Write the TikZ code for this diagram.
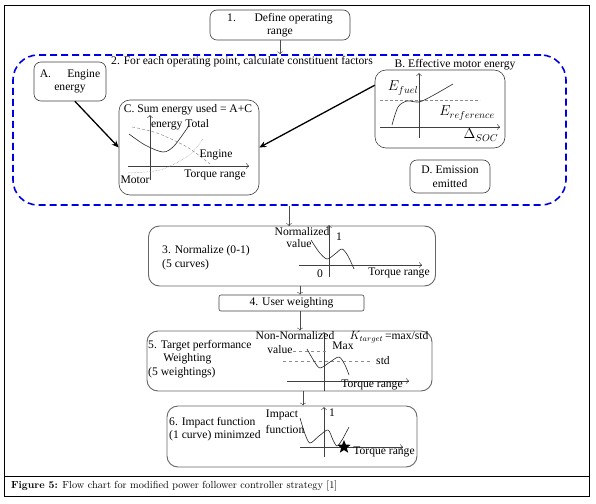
\documentclass[tikz,border=0pt]{standalone}
\usepackage{fontspec}
\newfontfamily\tnr{Liberation Serif}
\usetikzlibrary{calc, positioning, arrows.meta, shapes.geometric}

\begin{document}
\begin{tikzpicture}[
  x=1pt, y=-1pt,
  >=To,
  every node/.style={font=\tnr\fontsize{11.6}{13.5}\selectfont, inner sep=1pt},
  % boxes of the flow chart
  stepbox/.style={rectangle, draw=black!75, line width=0.6pt, rounded corners=7pt, align=center},
  bigbox/.style={rectangle, draw=black!60, line width=0.9pt, rounded corners=11pt},
  stage/.style={rectangle, draw=blue!90!black, line width=1.6pt, dash pattern=on 7pt off 4pt, rounded corners=25pt},
  flow/.style={->, draw=black!70, line width=0.5pt},
  feed/.style={-{Stealth[length=7pt,width=6pt]}, line width=1.3pt},
  axis/.style={->, draw=black!75, line width=0.5pt},
  guide/.style={draw=black!45, dashed, line width=0.5pt},
  curve/.style={draw=black!85, line width=0.6pt},
  bigmath/.style={font=\tnr\fontsize{14.5}{16}\selectfont}
]
\useasboundingbox (0,0) rectangle (596,503);

% Frame and caption
\draw[line width=0.6pt] (4.5,5) rectangle (589,496);
\draw[line width=0.6pt] (4.5,476) -- (589,476);
\node[anchor=west, font=\fontsize{10.3}{12}\selectfont] (caption) at (10,486)
  {\textbf{Figure 5:} Flow chart for modified power follower controller strategy [1]};

% Step 1
\node[stepbox, minimum width=140, minimum height=30] (define) at (280,25)
  {1.\hspace{1.6em}Define operating\\range};

% Stage 2 region
\node[stage, minimum width=553, minimum height=150] (stage2) at (289.5,130) {};
\node (stagelabel) at (242,62) {2. For each operating point, calculate constituent factors};
\draw[flow] (define.south) -- (define.south |- stage2.north);

% A. Engine energy
\node[stepbox, minimum width=72, minimum height=39] (engine) at (70,81.5)
  {A.\hspace{1.4em}Engine\\energy};

% C. Sum energy
\node[stepbox, rounded corners=11pt, minimum width=140, minimum height=95] (sum) at (189,147.5) {};
\node (sumlabel) at (188,110) {C. Sum energy used = A+C};
\draw[axis] (150,180) -- (150,115);
\draw[axis] (128,166) -- (249,166);
\draw[curve] plot[smooth] coordinates {(129,134) (145,145) (163,152) (174,146) (188,127)};
\draw[guide, densely dashed] plot[smooth] coordinates {(132,127) (157,133) (187,147) (210,164)};
\draw[guide, densely dotted] plot[smooth] coordinates {(128,173) (160,170) (188,156) (203,139)};
\node (total) at (180,125) {energy Total};
\node (enginecurve) at (216,155) {Engine};
\node (torqueC) at (215,175) {Torque range};
\node (motor) at (135,180) {Motor};

% B. Effective motor energy
\node[stepbox, rounded corners=11pt, minimum width=130, minimum height=78] (motorbox) at (440,109) {};
\node (motorlabel) at (455,65) {B. Effective motor energy};
\draw[axis] (419,138) -- (419,73);
\draw[axis] (380,127) -- (500,127);
\draw[guide, densely dashed] (380,100) -- (480,100);
\draw[curve] plot[smooth] coordinates {(392,125) (398,107) (407,101) (419,102) (432,96) (453,84)};
\node[bigmath] (efuel) at (403,88) {$E_{fuel}$};
\node[bigmath] (eref) at (467,113) {$E_{reference}$};
\node[bigmath] (dsoc) at (481,135) {$\Delta_{SOC}$};

% D. Emission
\node[stepbox, minimum width=80, minimum height=33] (emission) at (450,176.5)
  {D. Emission\\emitted};

% Feeds into C
\draw[feed] (engine.-76) -- (sum.west);
\draw[feed] (motorbox.160) -- (sum.east);

% Step 3
\node[bigbox, minimum width=287, minimum height=60] (normalize) at (292,256) {};
\node[anchor=west, align=left] (normtext) at (161,257.5) {3. Normalize (0-1)\\(5 curves)};
\draw[axis] (329,277) -- (329,225);
\draw[axis] (299,265) -- (422,265);
\draw[curve] plot[smooth] coordinates {(311,240) (319,252) (327,259) (335,254) (342,249) (348,256) (354,269)};
\node (normalized) at (302,232) {Normalized};
\node (normvalue) at (299,244) {value};
\node (one3) at (339,237) {1};
\node (zero3) at (320,274) {0};
\node (torque3) at (399,273) {Torque range};
\draw[flow] (stage2.south -| 289,0) -- (289,226);

% Step 4
\node[rectangle, draw=black!75, line width=0.6pt, rounded corners=2pt,
  minimum width=145, minimum height=16] (weight) at (291.5,303) {4. User weighting};
\draw[flow] ([xshift=8]normalize.south) -- ([xshift=8]normalize.south |- weight.north);

% Step 5
\node[bigbox, minimum width=285, minimum height=60] (target) at (289.5,361) {};
\node[anchor=west, align=left] (targettext) at (147,359)
  {5. Target performance\\\hspace*{1.3em}Weighting\\(5 weightings)};
\draw[axis] (324,391) -- (324,332);
\draw[axis] (287,381) -- (409,381);
\draw[guide, dashed] (293,351) -- (326,351);
\draw[guide, dashed] (283,361) -- (373,361);
\draw[curve] plot[smooth] coordinates {(307,349) (314,361) (320,368) (330,362) (339,357) (345,365) (349,375)};
\node (nonnorm) at (295,336) {Non-Normalized};
\node (nonvalue) at (280,350) {value};
\node (maxlabel) at (343,346) {Max};
\node (stdlabel) at (383,361) {std};
\node[inner sep=0pt] (ktarget) at (389,337) {$K_{target}$\,=max/std};
\node (torque5) at (372,385) {Torque range};
\draw[flow] ([xshift=8.5]weight.south) -- ([xshift=8.5]weight.south |- target.north);

% Step 6
\node[bigbox, minimum width=250, minimum height=61] (impact) at (292,436.5) {};
\node[anchor=west, align=left] (impacttext) at (168,429) {6. Impact function\\(1 curve) minimzed};
\draw[axis] (324,457) -- (324,407);
\draw[axis] (300,447) -- (403,447);
\draw[curve] plot[smooth] coordinates {(300,418) (305,434) (310,443) (319,436) (328,430) (333,440) (337,446) (342,440) (349,427)};
\node[star, star points=5, star point ratio=2.3, fill=black, minimum size=14, inner sep=0pt] (optimum) at (344,447) {};
\node (impactlabel) at (282,415) {Impact};
\node (impactfn) at (285,429) {function};
\node (one6) at (332,413) {1};
\node (torque6) at (384,452) {Torque range};
\draw[flow] ([xshift=13.5]target.south) -- ([xshift=13.5]target.south |- impact.north);

\end{tikzpicture}
\end{document}
